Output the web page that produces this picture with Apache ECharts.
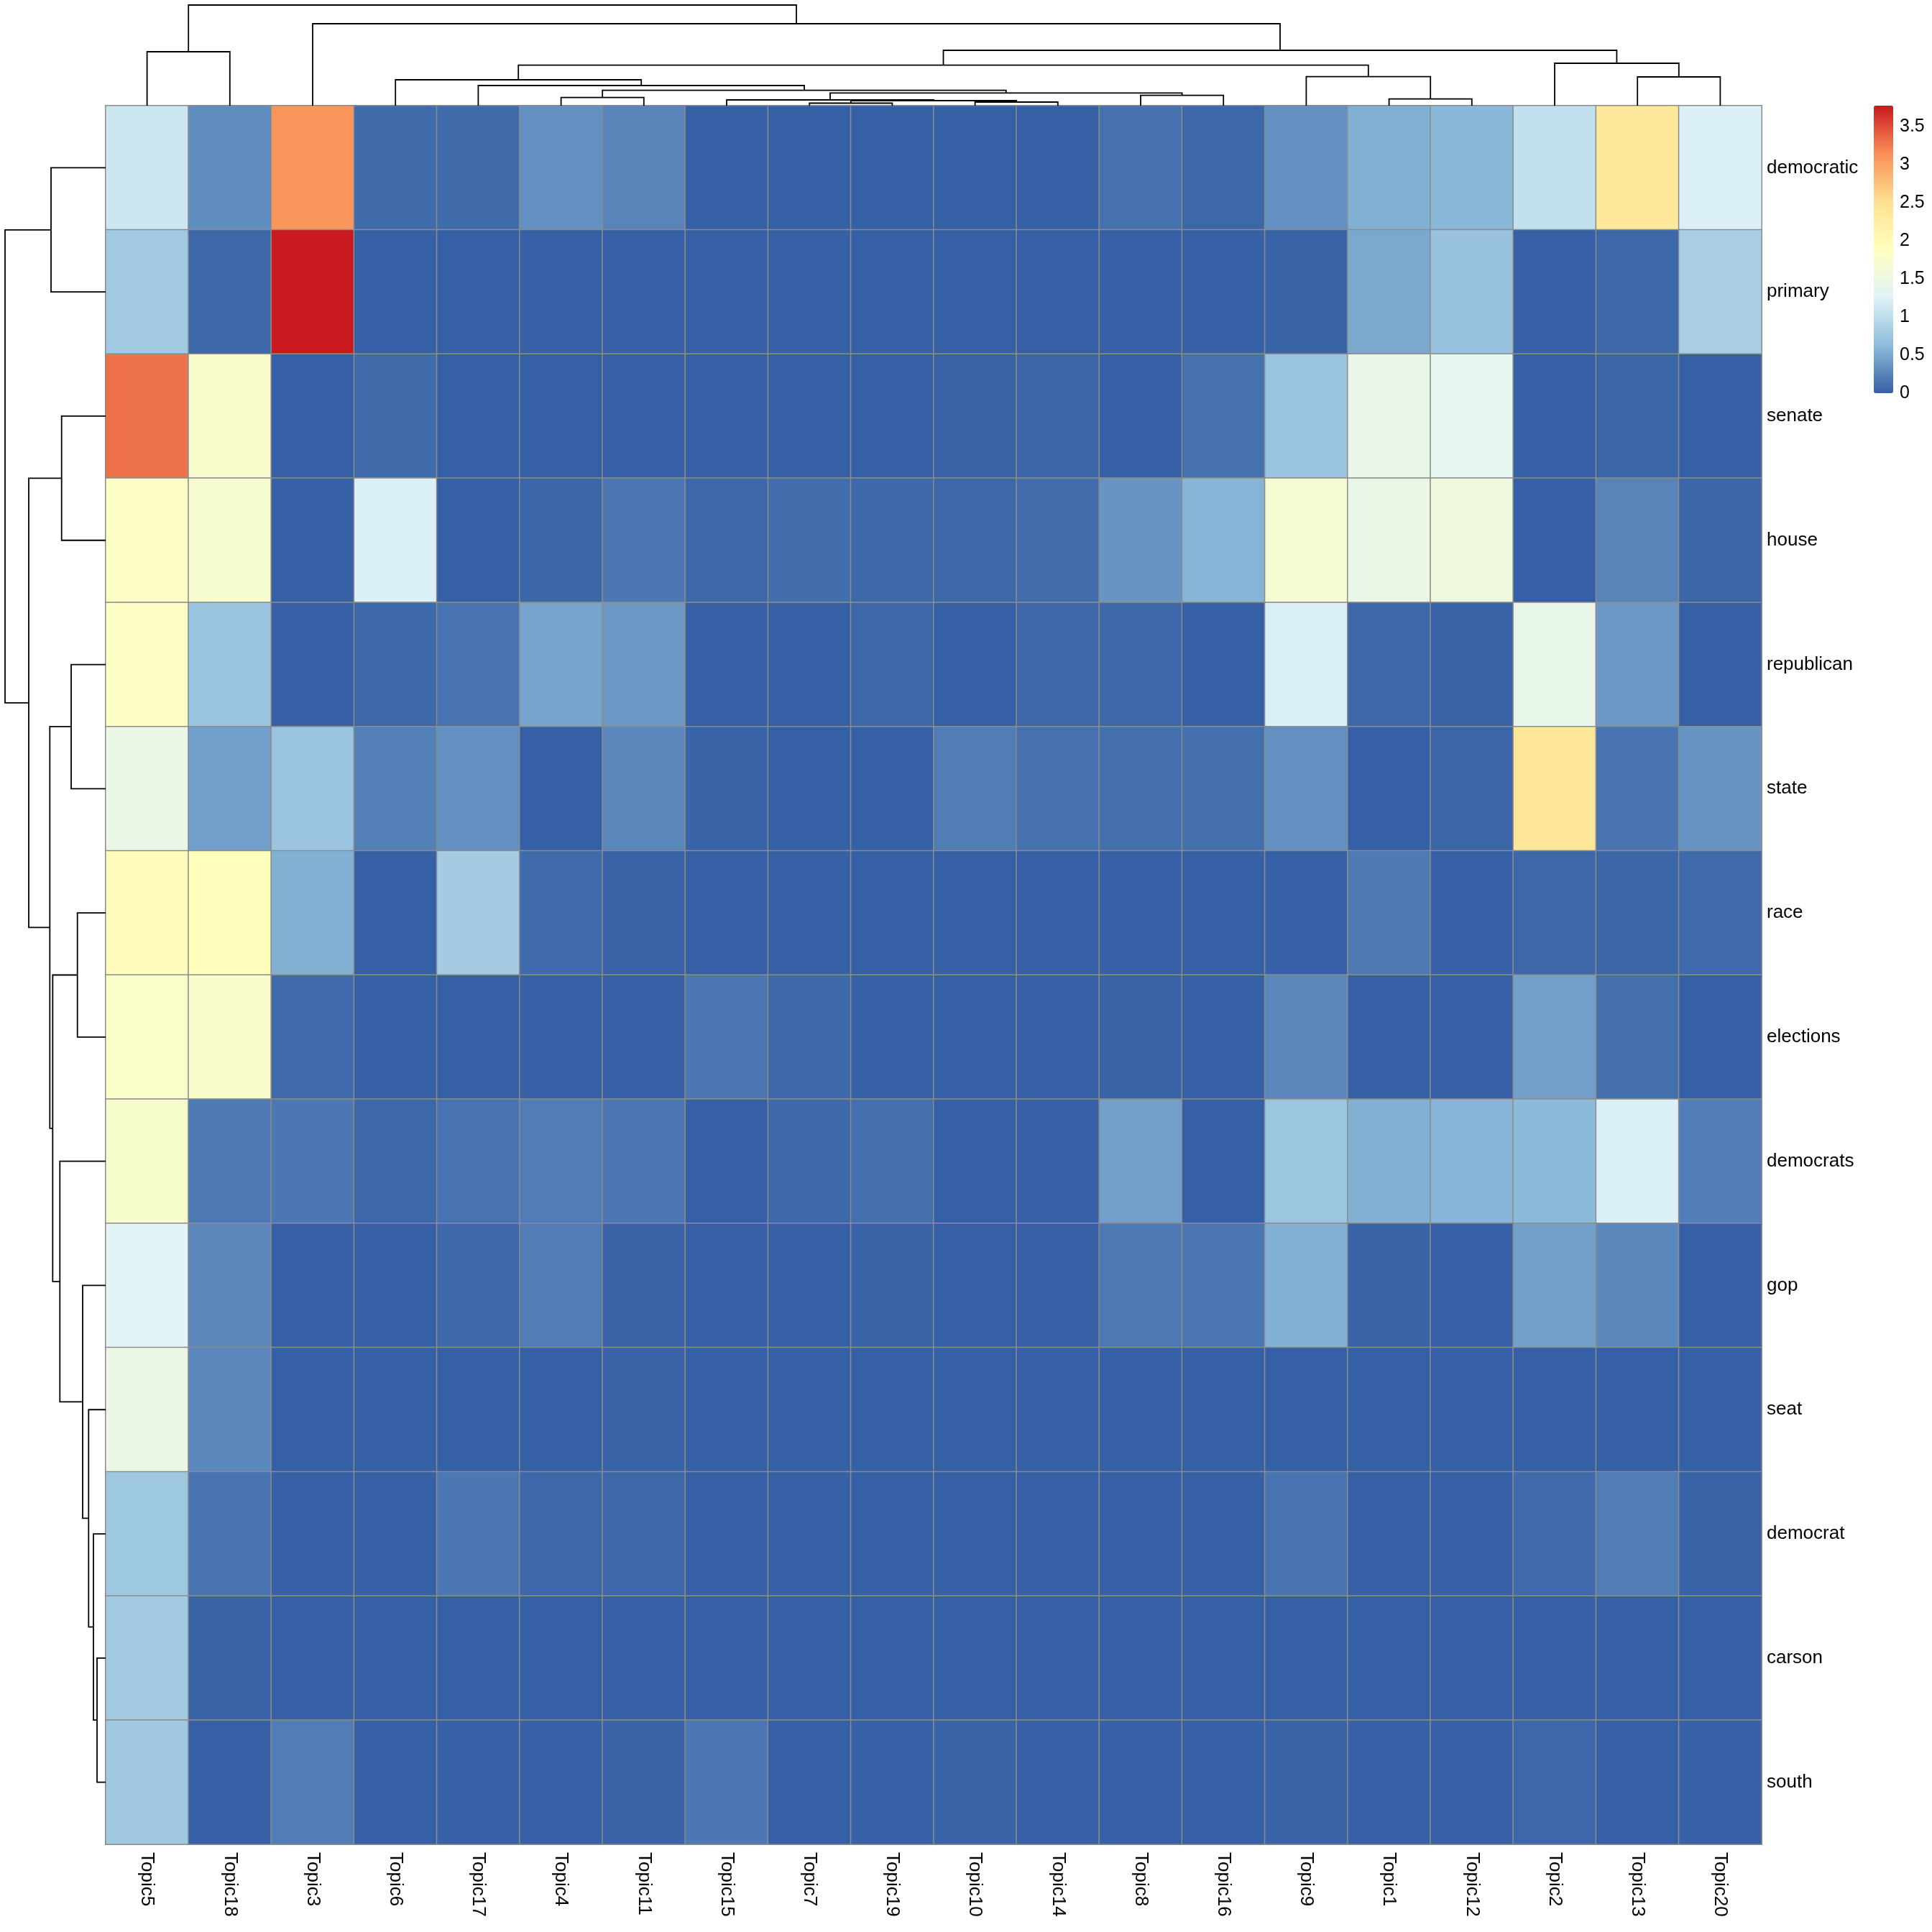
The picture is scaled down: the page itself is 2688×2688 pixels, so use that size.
<!DOCTYPE html>
<html>
<head>
<meta charset="utf-8">
<script src="https://cdn.jsdelivr.net/npm/echarts@6/dist/echarts.min.js"></script>
<style>
html,body{margin:0;padding:0;background:#fff;}
#chart{width:2688px;height:2688px;}
</style>
</head>
<body>
<div id="chart"></div>
<script>
// ---- Data ----
const topics = ['Topic5','Topic18','Topic3','Topic6','Topic17','Topic4','Topic11','Topic15','Topic7','Topic19','Topic10','Topic14','Topic8','Topic16','Topic9','Topic1','Topic12','Topic2','Topic13','Topic20'];
const words = ['democratic','primary','senate','house','republican','state','race','elections','democrats','gop','seat','democrat','carson','south'];

const democratic = [1.10,0.31,3.09,0.08,0.08,0.33,0.25,0.00,0.00,0.00,0.00,0.00,0.12,0.05,0.33,0.55,0.61,1.03,2.35,1.21];
const primary    = [0.79,0.05,3.77,0.00,0.00,0.01,0.01,0.00,0.00,0.00,0.00,0.00,0.01,0.01,0.02,0.50,0.71,0.01,0.05,0.84];
const senate     = [3.30,1.74,0.00,0.08,0.00,0.00,0.00,0.00,0.00,0.00,0.02,0.04,0.00,0.12,0.72,1.43,1.38,0.00,0.04,0.00];
const house      = [1.83,1.72,0.00,1.21,0.00,0.04,0.16,0.05,0.10,0.06,0.05,0.10,0.36,0.58,1.68,1.45,1.55,0.00,0.25,0.04];
const republican = [1.83,0.73,0.00,0.06,0.13,0.47,0.39,0.00,0.00,0.05,0.00,0.06,0.06,0.00,1.20,0.05,0.03,1.41,0.39,0.00];
const state      = [1.46,0.44,0.72,0.22,0.33,0.00,0.26,0.03,0.00,0.00,0.20,0.12,0.11,0.11,0.33,0.00,0.04,2.40,0.14,0.36];
const race       = [1.94,1.92,0.56,0.00,0.81,0.07,0.02,0.00,0.00,0.00,0.00,0.00,0.01,0.00,0.01,0.18,0.01,0.05,0.04,0.07];
const elections  = [1.78,1.75,0.07,0.01,0.00,0.01,0.00,0.16,0.06,0.01,0.00,0.01,0.02,0.01,0.27,0.00,0.01,0.44,0.11,0.00];
const democrats  = [1.73,0.18,0.16,0.05,0.13,0.20,0.16,0.00,0.06,0.11,0.00,0.01,0.44,0.00,0.74,0.56,0.59,0.62,1.22,0.21];
const gop        = [1.29,0.27,0.00,0.00,0.06,0.20,0.03,0.00,0.00,0.03,0.00,0.00,0.17,0.15,0.55,0.03,0.00,0.44,0.28,0.00];
const seat       = [1.48,0.28,0.00,0.00,0.00,0.00,0.02,0.00,0.00,0.00,0.00,0.00,0.00,0.00,0.00,0.00,0.00,0.00,0.00,0.00];
const democrat   = [0.76,0.13,0.01,0.00,0.16,0.05,0.05,0.00,0.00,0.00,0.00,0.00,0.00,0.00,0.14,0.00,0.01,0.07,0.20,0.02];
const carson     = [0.79,0.03,0.00,0.00,0.00,0.00,0.00,0.00,0.00,0.00,0.00,0.00,0.00,0.00,0.00,0.00,0.00,0.00,0.00,0.00];
const south      = [0.77,0.00,0.20,0.00,0.01,0.01,0.03,0.16,0.00,0.01,0.03,0.01,0.01,0.01,0.02,0.01,0.01,0.05,0.00,0.01];
const rows = [democratic,primary,senate,house,republican,state,race,elections,democrats,gop,seat,democrat,carson,south];

const legendTicks = [0,0.5,1,1.5,2,2.5,3,3.5];
const valueMin = 0;
const valueMax = 3.77;

// Column dendrogram: [childA, childB, height]; strings are leaves, numbers refer to earlier merges
const topMerges = [
  ['Topic7','Topic19',3.5],
  ['Topic10','Topic14',5],
  [0,1,7],
  ['Topic15',2,8],
  ['Topic4','Topic11',11.3],
  ['Topic8','Topic16',14.3],
  [3,5,17.7],
  [4,6,21.3],
  ['Topic17',7,28],
  ['Topic6',8,36],
  ['Topic1','Topic12',9.3],
  ['Topic9',10,40.3],
  [9,11,56.3],
  ['Topic13','Topic20',40],
  ['Topic2',13,59],
  [12,14,77],
  ['Topic3',15,114],
  ['Topic5','Topic18',75],
  [17,16,140]
];
// Row dendrogram
const leftMerges = [
  ['democratic','primary',76],
  ['senate','house',61.3],
  ['republican','state',48],
  ['race','elections',39.3],
  ['carson','south',12],
  ['democrat',4,17],
  ['seat',5,23.7],
  ['gop',6,32],
  ['democrats',7,63.7],
  [3,8,73.7],
  [2,9,77.7],
  [1,10,107],
  [0,11,140]
];

// ---- Build ----
const heatData = [];
rows.forEach((r, yi) => r.forEach((v, xi) => heatData.push([xi, yi, v])));

function dendroSegments(merges, leaves, horizontal) {
  const pos = [], hgt = [];
  const P = c => typeof c === 'string' ? leaves.indexOf(c) + 0.5 : pos[c];
  const H = c => typeof c === 'string' ? 0 : hgt[c];
  const segs = [];
  merges.forEach((m, i) => {
    const [a, b, h] = m;
    const pa = P(a), pb = P(b), ha = H(a), hb = H(b);
    pos[i] = (pa + pb) / 2; hgt[i] = h;
    let pts = [[pa, ha], [pa, h], [pb, h], [pb, hb]];
    if (!horizontal) pts = pts.map(p => [p[1], p[0]]);
    segs.push({coords: pts});
  });
  return segs;
}

const FONT = 'Liberation Sans, Arial, Helvetica, sans-serif';
const chart = echarts.init(document.getElementById('chart'), null, {renderer: 'canvas'});
const option = {
  backgroundColor: '#ffffff',
  animation: false,
  grid: [
    {left: 147, top: 147, width: 2304, height: 2419},
    {left: 147, top: 0, width: 2304, height: 147},
    {left: 0, top: 147, width: 147, height: 2419},
    {left: 2607, top: 147, width: 27, height: 400}
  ],
  xAxis: [
    {gridIndex: 0, type: 'category', data: topics, position: 'bottom',
     axisLine: {show: false}, axisTick: {show: false}, splitLine: {show: false},
     axisLabel: {interval: 0, rotate: -90, margin: 11, fontSize: 26, color: '#000', fontFamily: FONT}},
    {gridIndex: 1, type: 'value', min: 0, max: topics.length, show: false},
    {gridIndex: 2, type: 'value', min: 0, max: 147, inverse: true, show: false},
    {gridIndex: 3, type: 'value', min: 0, max: 1, show: false}
  ],
  yAxis: [
    {gridIndex: 0, type: 'category', data: words, inverse: true, position: 'right',
     axisLine: {show: false}, axisTick: {show: false}, splitLine: {show: false},
     axisLabel: {interval: 0, margin: 7, fontSize: 26, color: '#000', fontFamily: FONT}},
    {gridIndex: 1, type: 'value', min: 0, max: 147, show: false},
    {gridIndex: 2, type: 'value', min: 0, max: words.length, inverse: true, show: false},
    {gridIndex: 3, type: 'value', min: valueMin, max: valueMax, interval: 0.5, position: 'right',
     axisLine: {show: false}, axisTick: {show: false}, splitLine: {show: false},
     axisLabel: {margin: 9, fontSize: 25, color: '#000', fontFamily: FONT, showMaxLabel: false,
       formatter: v => legendTicks.some(t => Math.abs(t - v) < 1e-6) ? String(v) : ''}}
  ],
  visualMap: {
    type: 'continuous', min: valueMin, max: valueMax, seriesIndex: 0,
    left: 2607, top: 147, itemWidth: 27, itemHeight: 400, padding: 0,
    calculable: false, text: null, hoverLink: false,
    inRange: {color: ['#3560a5','#8dbbda','#e0f3f8','#ffffbf','#fee090','#fa8f57','#c8191e']}
  },
  series: [
    {type: 'heatmap', xAxisIndex: 0, yAxisIndex: 0, data: heatData, progressive: 0,
     itemStyle: {borderColor: '#8c8c8c', borderWidth: 1.5}, emphasis: {disabled: true}},
    {type: 'lines', coordinateSystem: 'cartesian2d', xAxisIndex: 1, yAxisIndex: 1, polyline: true,
     silent: true, lineStyle: {color: '#000', width: 1.8, opacity: 1},
     data: dendroSegments(topMerges, topics, true)},
    {type: 'lines', coordinateSystem: 'cartesian2d', xAxisIndex: 2, yAxisIndex: 2, polyline: true,
     silent: true, lineStyle: {color: '#000', width: 1.8, opacity: 1},
     data: dendroSegments(leftMerges, words, false)}
  ]
};
chart.setOption(option);
</script>
</body>
</html>
